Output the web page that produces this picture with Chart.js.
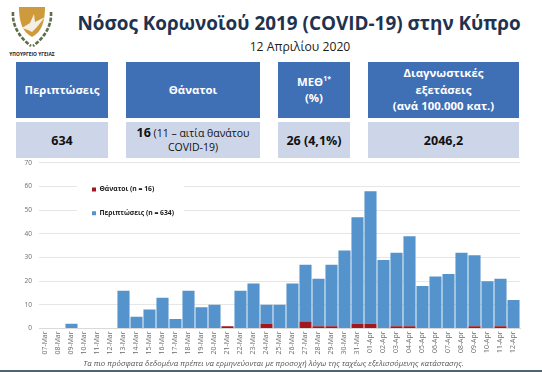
<!DOCTYPE html>
<html lang="el">
<head>
<meta charset="utf-8">
<style>
html,body{margin:0;padding:0;background:#fff;width:542px;height:372px;overflow:hidden;font-family:"Open Sans","Noto Sans",sans-serif}
.a{position:absolute;box-sizing:border-box;display:flex;align-items:center;justify-content:center;text-align:center}
.h{background:#3f6fb5;color:#fff;font-weight:700;font-size:11.4px;line-height:16.5px;top:62px;height:56px}
.v{background:#cdd5e8;color:#111;font-weight:700;font-size:12.5px;line-height:15px;top:122px;height:36px}
sup{font-size:7px;line-height:0}
#title{left:60px;top:8px;width:478px;height:30px;font-size:18.9px;font-weight:700;color:#1f3350;white-space:nowrap}
#sub{left:85px;top:37px;width:430px;height:18px;font-size:12.2px;color:#222}
#foot{left:38.5px;top:357px;width:470px;height:12px;font-size:7.85px;font-style:italic;color:#555;white-space:nowrap}
#bar{position:absolute;left:0;top:370px;width:542px;height:2px;background:#4d6670}
#chartWrap{position:absolute;left:15px;top:152px;width:510px;height:207px}
#chartWrap canvas{display:block}
#org{left:7px;top:50px;width:50px;height:8px;font-size:4.9px;font-weight:700;color:#222;white-space:nowrap}
</style>
</head>
<body>
<svg style="position:absolute;left:8px;top:4px" width="48" height="47" viewBox="0 0 48 47">
 <path d="M11 3 H37 C37 17 34 28 24 33 C14 28 11 17 11 3Z" fill="#cf9a3c"/>
 <path d="M14 24 L22 19 L26 10 L27 18 L37 13 L29 23 L24 28 L20 26Z" fill="#f4efe4"/>
 <path d="M5 8 C4 22 12 34 23 42" fill="none" stroke="#5f6d4a" stroke-width="2.6" stroke-dasharray="4 1.5"/>
 <path d="M43 8 C44 22 36 34 25 42" fill="none" stroke="#5f6d4a" stroke-width="2.6" stroke-dasharray="4 1.5"/>
</svg>
<div class="a" id="org">ΥΠΟΥΡΓΕΙΟ ΥΓΕΙΑΣ</div>
<div class="a" id="title">Νόσος Κορωνοϊού 2019 (COVID-19) στην Κύπρο</div>
<div class="a" id="sub">12 Απριλίου 2020</div>

<div class="a h" style="left:16px;width:92px">Περιπτώσεις</div>
<div class="a h" style="left:126px;width:134px">Θάνατοι</div>
<div class="a h" style="left:278px;width:72px"><span>ΜΕΘ<sup>1*</sup><br>(%)</span></div>
<div class="a h" style="left:368px;width:151px"><span>Διαγνωστικές<br>εξετάσεις<br>(ανά 100.000 κατ.)</span></div>

<div class="a v" style="left:16px;width:92px">634</div>
<div class="a v" style="left:126px;width:134px;font-weight:400;font-size:10.5px;line-height:14px"><span><b style="font-size:12.5px">16</b> (11 – αιτία θανάτου<br>COVID-19)</span></div>
<div class="a v" style="left:278px;width:72px">26 (4,1%)</div>
<div class="a v" style="left:368px;width:151px">2046,2</div>

<div id="chartWrap"><canvas id="c" width="510" height="207"></canvas></div>
<div class="a" id="foot">Τα πιο πρόσφατα δεδομένα πρέπει να ερμηνεύονται με προσοχή λόγω της ταχέως εξελισσόμενης κατάστασης.</div>
<div id="bar"></div>

<script src="https://cdn.jsdelivr.net/npm/chart.js@4"></script>
<script>
const categories = ["07-Mar","08-Mar","09-Mar","10-Mar","11-Mar","12-Mar","13-Mar","14-Mar","15-Mar","16-Mar","17-Mar","18-Mar","19-Mar","20-Mar","21-Mar","22-Mar","23-Mar","24-Mar","25-Mar","26-Mar","27-Mar","28-Mar","29-Mar","30-Mar","31-Mar","01-Apr","02-Apr","03-Apr","04-Apr","05-Apr","06-Apr","07-Apr","08-Apr","09-Apr","10-Apr","11-Apr","12-Apr"];
const deaths = [0,0,0,0,0,0,0,0,0,0,0,0,0,0,1,0,0,2,0,0,3,1,1,0,2,2,0,1,1,0,0,0,0,1,0,1,0];
const cases  = [0,0,2,0,0,0,16,5,8,13,4,16,9,10,0,16,19,8,10,19,24,20,26,33,45,56,29,31,38,18,22,23,32,30,20,20,12];
const deathsLabel = "Θάνατοι (n = 16)";
const casesLabel = "Περιπτώσεις (n = 634)";

const placeLegend = {
  id:"placeLegend",
  afterLayout(chart){
    const l = chart.legend, w = l.right - l.left, h = l.bottom - l.top;
    l.left = 60; l.right = l.left + w; l.top = 17; l.bottom = l.top + h;
  },
  beforeDatasetsDraw(chart){
    const c = chart.ctx;
    c.save(); c.fillStyle = "#fff"; c.fillRect(62, 22, 107, 50); c.restore();
    chart.legend.draw();
  }
};

new Chart(document.getElementById("c"), {
  type:"bar",
  data:{labels:categories,datasets:[
    {label:deathsLabel,data:deaths,backgroundColor:"#a3171f",barPercentage:0.93,categoryPercentage:1},
    {label:casesLabel,data:cases,backgroundColor:"#5593cc",barPercentage:0.93,categoryPercentage:1}
  ]},
  plugins:[placeLegend],
  options:{
    responsive:false,animation:false,
    layout:{padding:{top:4.5,right:5,bottom:0,left:0}},
    scales:{
      x:{stacked:true,
        grid:{display:false,drawTicks:false},
        border:{color:"#d9d9d9"},
        ticks:{font:{size:6.9,family:"'Open Sans'"},color:"#6a6a6a",minRotation:90,maxRotation:90,autoSkip:false,padding:3},
        afterFit(s){s.height=30.5;}
      },
      y:{stacked:true,min:0,max:70,
        grid:{color:"#e6e6e6",drawTicks:false},
        border:{display:false},
        ticks:{stepSize:10,font:{size:6.5,family:"'Open Sans'"},color:"#6a6a6a",padding:7},
        afterFit(s){s.width=24;}
      }
    },
    plugins:{
      tooltip:{enabled:false},
      legend:{position:"chartArea",align:"start",
        labels:{boxWidth:4,boxHeight:4,padding:17,color:"#222",font:{size:6.8,weight:"bold",family:"'Open Sans'"}}
      }
    }
  }
});
</script>
</body>
</html>
